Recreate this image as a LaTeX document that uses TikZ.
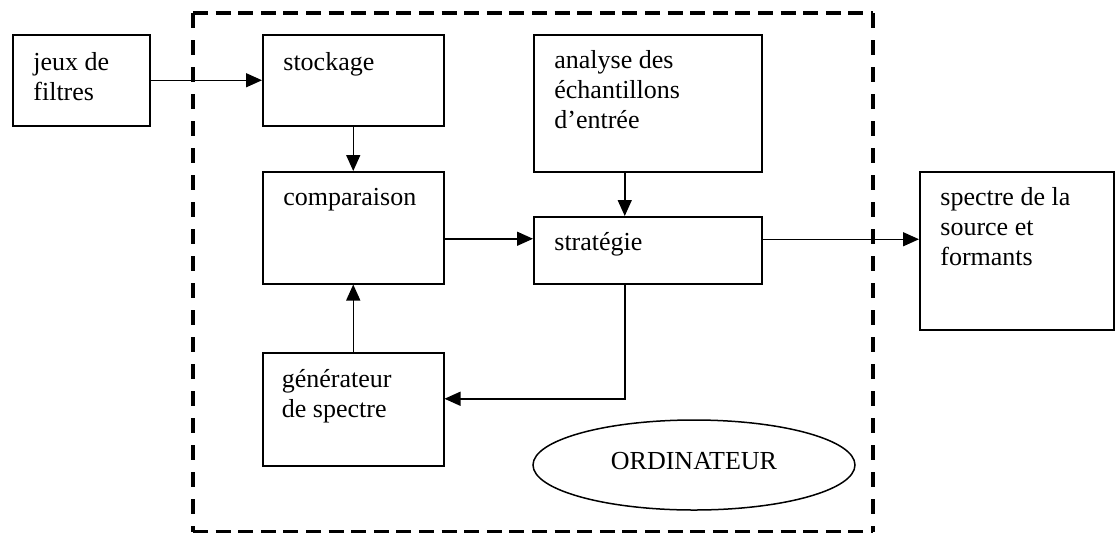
\documentclass[tikz,border=0pt]{standalone}
\usepackage{fontspec}
\setmainfont{Liberation Serif}
\usetikzlibrary{arrows.meta,shapes.geometric}
\newcommand\boxtxt[1]{\begin{tabular}[t]{@{}l@{}}#1\end{tabular}}
\begin{document}
\begin{tikzpicture}[x=0.5pt,y=-0.5pt,
  font=\fontsize{13}{15}\selectfont,
  box/.style={draw,line width=0.75pt,rectangle,anchor=north west,inner sep=0pt},
  txt/.style={anchor=base west,inner sep=0pt},
  arr/.style={line width=0.75pt,-{Triangle[length=8pt,width=7pt]}},
  hframe/.style={line width=1.8pt,dash pattern=on 7.5pt off 3.8pt},
  vframe/.style={line width=2pt,dash pattern=on 7.5pt off 6pt}]
\useasboundingbox (0,0) rectangle (1115,532);
% dashed computer frame
\coordinate (tl) at (193,13);
\coordinate (tr) at (873,13);
\coordinate (bl) at (193,532);
\coordinate (br) at (873,532);
\draw[hframe] (tl) -- (tr);
\draw[hframe] (bl) -- (br);
\draw[vframe] (tl) -- (bl);
\draw[vframe] (tr) -- (br);
% boxes
\node[box,minimum width=68.5pt,minimum height=45.5pt] (jeux) at (12,34) {};
\node[box,minimum width=90.5pt,minimum height=45.5pt] (stock) at (262,34) {};
\node[box,minimum width=114pt,minimum height=68.5pt] (anal) at (533,34) {};
\node[box,minimum width=90.5pt,minimum height=56pt] (comp) at (262,171) {};
\node[box,minimum width=114pt,minimum height=33.5pt] (strat) at (533,216) {};
\node[box,minimum width=97pt,minimum height=79pt] (spec) at (919,171) {};
\node[box,minimum width=90.5pt,minimum height=56.5pt] (gen) at (262,352) {};
\node[draw,line width=0.75pt,ellipse,inner sep=0pt,minimum width=161pt,minimum height=45pt,text depth=4.5pt] (ordi) at (694,465) {ORDINATEUR};
% texts
\node[txt] (jeuxT) at ([xshift=10.5pt,yshift=-18pt]jeux.north west) {\boxtxt{jeux de\\filtres}};
\node[txt] (stockT) at ([xshift=10.5pt,yshift=-18pt]stock.north west) {\boxtxt{stockage}};
\node[txt] (analT) at ([xshift=10.5pt,yshift=-17pt]anal.north west) {\boxtxt{analyse des\\échantillons\\d’entrée}};
\node[txt] (compT) at ([xshift=10.5pt,yshift=-17pt]comp.north west) {\boxtxt{comparaison}};
\node[txt] (stratT) at ([xshift=10.5pt,yshift=-17pt]strat.north west) {\boxtxt{stratégie}};
\node[txt] (specT) at ([xshift=10.5pt,yshift=-17pt]spec.north west) {\boxtxt{spectre de la\\source et\\formants}};
\node[txt] (genT) at ([xshift=9.75pt,yshift=-17.5pt]gen.north west) {\boxtxt{générateur\\de spectre}};
% connectors
\draw[arr] (jeux.east) -- (stock.west);
\draw[arr] (stock.south) -- (comp.north);
\path ([xshift=-11.5pt]anal.south) coordinate (a1);
\draw[arr] (a1) -- (a1 |- strat.north);
\path ([yshift=-5.5pt]comp.east) coordinate (c1);
\draw[arr] (c1) -- (c1 -| strat.west);
\path ([yshift=5.5pt]strat.east) coordinate (s1);
\draw[arr] (s1) -- (s1 -| spec.west);
\path ([xshift=-11.5pt]strat.south) coordinate (s2);
\path ([yshift=5.25pt]gen.east) coordinate (g1);
\draw[arr] (s2) |- (g1);
\draw[arr] (gen.north) -- (comp.south);
\end{tikzpicture}
\end{document}
